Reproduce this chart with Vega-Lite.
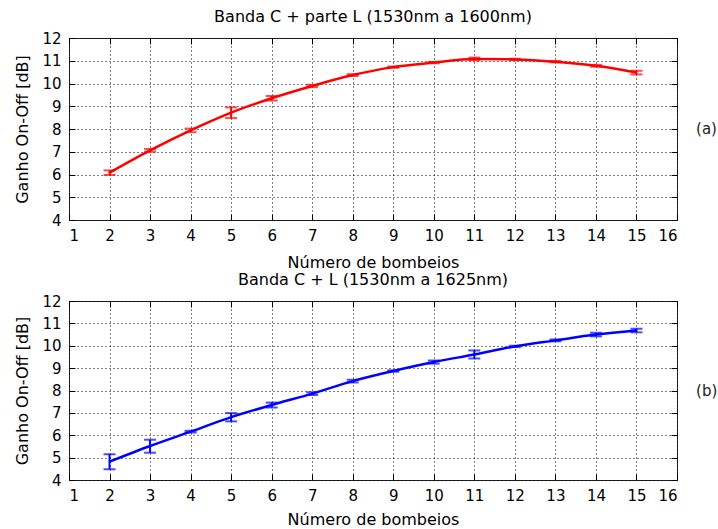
{
  "$schema": "https://vega.github.io/schema/vega-lite/v6.json",
  "background": "white",
  "padding": {"left": 14, "top": 8, "right": 0, "bottom": 0},
  "config": {
    "font": "DejaVu Sans",
    "view": {"stroke": "#222222", "strokeWidth": 1},
    "axis": {
      "domain": false,
      "grid": true,
      "gridColor": "#000000",
      "gridDash": [1, 3],
      "gridOpacity": 1,
      "gridWidth": 1,
      "tickColor": "#000000",
      "tickSize": -6,
      "labelPadding": 14,
      "labelFont": "DejaVu Sans",
      "labelFontSize": 15,
      "labelColor": "#000000",
      "titleFont": "DejaVu Sans",
      "titleFontSize": 16,
      "titleFontWeight": "normal",
      "titleColor": "#000000"
    },
    "title": {"font": "DejaVu Sans", "fontSize": 16, "fontWeight": "normal", "color": "#000000", "offset": 6},
    "concat": {"spacing": 0}
  },
  "datasets": {
    "a": [
      {"n": 2, "g": 6.08, "lo": 5.98, "hi": 6.18},
      {"n": 3, "g": 7.06, "lo": 7.0, "hi": 7.12},
      {"n": 4, "g": 7.94, "lo": 7.86, "hi": 8.02},
      {"n": 5, "g": 8.72, "lo": 8.48, "hi": 8.95},
      {"n": 6, "g": 9.35, "lo": 9.25, "hi": 9.45},
      {"n": 7, "g": 9.89, "lo": 9.84, "hi": 9.94},
      {"n": 8, "g": 10.37, "lo": 10.33, "hi": 10.41},
      {"n": 9, "g": 10.72, "lo": 10.69, "hi": 10.75},
      {"n": 10, "g": 10.92, "lo": 10.89, "hi": 10.95},
      {"n": 11, "g": 11.08, "lo": 11.02, "hi": 11.14},
      {"n": 12, "g": 11.06, "lo": 11.03, "hi": 11.09},
      {"n": 13, "g": 10.96, "lo": 10.93, "hi": 10.99},
      {"n": 14, "g": 10.78, "lo": 10.74, "hi": 10.82},
      {"n": 15, "g": 10.48, "lo": 10.4, "hi": 10.56}
    ],
    "b": [
      {"n": 2, "g": 4.82, "lo": 4.48, "hi": 5.15},
      {"n": 3, "g": 5.52, "lo": 5.22, "hi": 5.8},
      {"n": 4, "g": 6.16, "lo": 6.12, "hi": 6.2},
      {"n": 5, "g": 6.81, "lo": 6.62, "hi": 6.99},
      {"n": 6, "g": 7.35, "lo": 7.24, "hi": 7.46},
      {"n": 7, "g": 7.86, "lo": 7.8, "hi": 7.92},
      {"n": 8, "g": 8.42, "lo": 8.36, "hi": 8.48},
      {"n": 9, "g": 8.87, "lo": 8.84, "hi": 8.9},
      {"n": 10, "g": 9.27, "lo": 9.2, "hi": 9.34},
      {"n": 11, "g": 9.61, "lo": 9.43, "hi": 9.79},
      {"n": 12, "g": 9.97, "lo": 9.94, "hi": 10.0},
      {"n": 13, "g": 10.24, "lo": 10.2, "hi": 10.28},
      {"n": 14, "g": 10.5, "lo": 10.42, "hi": 10.58},
      {"n": 15, "g": 10.68, "lo": 10.6, "hi": 10.76}
    ]
  },
  "vconcat": [
    {
      "title": "Banda C + parte L (1530nm a 1600nm)",
      "width": 608,
      "height": 182,
      "data": {"name": "a"},
      "resolve": {"axis": {"x": "independent", "y": "independent"}},
      "layer": [
        {
          "mark": {"type": "line", "color": "#FF0000", "strokeWidth": 2.5, "interpolate": "monotone"},
          "encoding": {
            "x": {"field": "n", "type": "quantitative", "scale": {"domain": [1, 16], "nice": false},
                  "axis": {"values": [1,2,3,4,5,6,7,8,9,10,11,12,13,14,15,16], "title": "Número de bombeios", "titlePadding": 11}},
            "y": {"field": "g", "type": "quantitative", "scale": {"domain": [4, 12], "nice": false},
                  "axis": {"values": [4,5,6,7,8,9,10,11,12], "title": "Ganho On-Off [dB]", "titlePadding": 11}}
          }
        },
        {
          "mark": {"type": "errorbar", "color": "#FF0000", "thickness": 2, "ticks": {"size": 12, "thickness": 2}},
          "encoding": {
            "x": {"field": "n", "type": "quantitative",
                  "axis": {"orient": "top", "labels": false, "grid": false, "title": null, "values": [1,2,3,4,5,6,7,8,9,10,11,12,13,14,15,16]}},
            "y": {"field": "lo", "type": "quantitative",
                  "axis": {"orient": "right", "labels": false, "grid": false, "title": null, "values": [4,5,6,7,8,9,10,11,12]}},
            "y2": {"field": "hi"}
          }
        },
        {
          "data": {"values": [{}]},
          "mark": {"type": "text", "fontSize": 15, "align": "left", "color": "#222222", "font": "DejaVu Sans"},
          "encoding": {
            "x": {"datum": 16.47, "type": "quantitative", "axis": null},
            "y": {"datum": 8, "type": "quantitative", "axis": null},
            "text": {"value": "(a)"}
          }
        }
      ]
    },
    {
      "title": "Banda C + L (1530nm a 1625nm)",
      "width": 608,
      "height": 179,
      "data": {"name": "b"},
      "resolve": {"axis": {"x": "independent", "y": "independent"}},
      "layer": [
        {
          "mark": {"type": "line", "color": "#0000FF", "strokeWidth": 2.5, "interpolate": "monotone"},
          "encoding": {
            "x": {"field": "n", "type": "quantitative", "scale": {"domain": [1, 16], "nice": false},
                  "axis": {"values": [1,2,3,4,5,6,7,8,9,10,11,12,13,14,15,16], "title": "Número de bombeios", "titlePadding": 8}},
            "y": {"field": "g", "type": "quantitative", "scale": {"domain": [4, 12], "nice": false},
                  "axis": {"values": [4,5,6,7,8,9,10,11,12], "title": "Ganho On-Off [dB]", "titlePadding": 11}}
          }
        },
        {
          "mark": {"type": "errorbar", "color": "#0000FF", "thickness": 2, "ticks": {"size": 12, "thickness": 2}},
          "encoding": {
            "x": {"field": "n", "type": "quantitative",
                  "axis": {"orient": "top", "labels": false, "grid": false, "title": null, "values": [1,2,3,4,5,6,7,8,9,10,11,12,13,14,15,16]}},
            "y": {"field": "lo", "type": "quantitative",
                  "axis": {"orient": "right", "labels": false, "grid": false, "title": null, "values": [4,5,6,7,8,9,10,11,12]}},
            "y2": {"field": "hi"}
          }
        },
        {
          "data": {"values": [{}]},
          "mark": {"type": "text", "fontSize": 15, "align": "left", "color": "#222222", "font": "DejaVu Sans"},
          "encoding": {
            "x": {"datum": 16.47, "type": "quantitative", "axis": null},
            "y": {"datum": 8, "type": "quantitative", "axis": null},
            "text": {"value": "(b)"}
          }
        }
      ]
    }
  ]
}
